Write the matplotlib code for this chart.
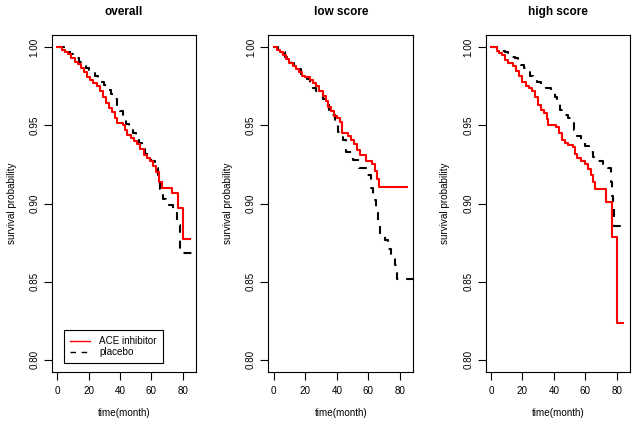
import matplotlib
matplotlib.use("Agg")
import matplotlib.pyplot as plt
from matplotlib.lines import Line2D

plt.rcParams['font.family'] = ['Liberation Sans', 'DejaVu Sans']

titles = ["overall", "low score", "high score"]
legend_labels = ["ACE inhibitor", "placebo"]
xlabel = "time(month)"
ylabel = "survival probability"
xticks = [0, 20, 40, 60, 80]
yticks = [0.80, 0.85, 0.90, 0.95, 1.00]

# ---- overall ----
ace_overall_t = [0, 2.8, 5, 7, 9, 11, 13, 15, 17, 19, 21, 23, 25, 27, 29, 31, 33, 35, 36.5, 38,
                 42, 43, 44.5, 47, 49, 51, 53, 55, 57, 59, 61, 63, 64.5, 66.6, 73.0, 76.8, 80.0, 84.6]
ace_overall_s = [1.0, 0.9985, 0.9972, 0.9958, 0.993, 0.991, 0.9895, 0.987, 0.984, 0.981, 0.979, 0.977,
                 0.9755, 0.972, 0.968, 0.9645, 0.961, 0.9585, 0.955, 0.9515, 0.9505, 0.947, 0.944,
                 0.942, 0.940, 0.938, 0.935, 0.931, 0.929, 0.927, 0.924, 0.920, 0.914, 0.910,
                 0.9065, 0.897, 0.877, 0.877]
pla_overall_t = [0, 4, 6, 8, 10, 12, 14, 16, 18, 20, 22, 24, 26, 28, 30, 32, 34, 36, 38, 40, 42, 44,
                 46, 48, 50, 52, 54, 56, 58, 60, 62, 64, 65.5, 67.5, 69.3, 74, 76.6, 78.3, 88]
pla_overall_s = [1.0, 0.999, 0.997, 0.996, 0.994, 0.993, 0.991, 0.989, 0.987, 0.9855, 0.984, 0.982,
                 0.980, 0.978, 0.976, 0.973, 0.970, 0.967, 0.963, 0.959, 0.955, 0.951, 0.948, 0.945,
                 0.942, 0.939, 0.935, 0.932, 0.929, 0.927, 0.923, 0.918, 0.909, 0.903, 0.899,
                 0.8937, 0.886, 0.868, 0.868]

# ---- low score ----
ace_low_t = [0, 2, 4, 6, 8, 10, 12, 14, 16, 18, 20, 23, 25, 27, 29, 31, 33, 34.5, 36, 38, 40, 42,
             43.5, 47, 49, 51, 53, 54.5, 58.5, 62, 64, 65.5, 66.5, 84.2]
ace_low_s = [1.0, 0.9985, 0.997, 0.995, 0.9925, 0.990, 0.988, 0.986, 0.984, 0.982, 0.981, 0.979,
             0.977, 0.975, 0.972, 0.969, 0.966, 0.962, 0.959, 0.956, 0.9545, 0.9525, 0.945, 0.9435,
             0.941, 0.938, 0.934, 0.931, 0.927, 0.925, 0.921, 0.916, 0.9108, 0.9108]
pla_low_t = [0, 3, 5, 7, 9, 11, 13, 15, 17, 19, 21, 23, 25, 27, 29, 31, 33, 35, 37, 39, 41, 44, 46,
             50, 54, 58.5, 61.5, 63, 65, 66.3, 67.5, 70.5, 72.5, 74.5, 76.8, 78, 88]
pla_low_s = [1.0, 0.9985, 0.997, 0.994, 0.992, 0.990, 0.988, 0.986, 0.983, 0.981, 0.980, 0.976,
             0.974, 0.972, 0.970, 0.967, 0.963, 0.960, 0.957, 0.9525, 0.946, 0.9407, 0.933, 0.928,
             0.9225, 0.918, 0.910, 0.902, 0.895, 0.886, 0.880, 0.8766, 0.871, 0.866, 0.8605,
             0.8515, 0.8515]

# ---- high score ----
ace_high_t = [0, 3.6, 5, 7, 9, 11, 14, 16, 18, 20, 22, 24, 26, 28, 30, 32, 34, 35.5, 36.5, 41.5,
              43, 45, 47, 49, 52, 53.5, 55, 57, 59.5, 61.5, 63.5, 64.8, 66, 73, 76.8, 80, 83.8]
ace_high_s = [1.0, 0.998, 0.9965, 0.995, 0.992, 0.990, 0.988, 0.985, 0.982, 0.978, 0.975, 0.974,
              0.972, 0.968, 0.963, 0.960, 0.958, 0.954, 0.950, 0.9493, 0.945, 0.941, 0.939,
              0.9375, 0.936, 0.932, 0.929, 0.927, 0.925, 0.922, 0.918, 0.914, 0.9095, 0.901,
              0.8787, 0.8235, 0.8235]
pla_high_t = [0, 4, 7, 9, 11, 13, 15, 17, 19, 21, 23, 25, 27, 29, 32, 35, 38, 40.5, 42, 44, 46.5,
              49, 51, 53, 55, 57.5, 60, 62.5, 65, 67, 71, 74.5, 76.2, 77, 77.6, 78.3, 84]
pla_high_s = [1.0, 0.999, 0.998, 0.997, 0.996, 0.994, 0.993, 0.991, 0.989, 0.987, 0.985, 0.982,
              0.980, 0.978, 0.976, 0.974, 0.971, 0.968, 0.964, 0.960, 0.957, 0.955, 0.952, 0.947,
              0.943, 0.941, 0.937, 0.933, 0.930, 0.927, 0.9255, 0.9225, 0.914, 0.905, 0.897,
              0.8858, 0.8858]

panels = [
    (ace_overall_t, ace_overall_s, pla_overall_t, pla_overall_s),
    (ace_low_t, ace_low_s, pla_low_t, pla_low_s),
    (ace_high_t, ace_high_s, pla_high_t, pla_high_s),
]

W, H = 638, 426
fig = plt.figure(figsize=(W / 100, H / 100), dpi=100)
fig.patch.set_facecolor('white')

# axes boxes in pixels: (left, right)
boxes = [(52, 196), (268.3, 413.3), (485.7, 630)]
top_px, bot_px = 35, 372
ylab_x = [-0.278, -0.276, -0.282]

fs = 7.1
for i, ((l, r), (at, as_, pt, ps)) in enumerate(zip(boxes, panels)):
    ax = fig.add_axes([l / W, 1 - bot_px / H, (r - l) / W, (bot_px - top_px) / H])
    ax.step(pt, ps, where='post', color='black', lw=1.5, linestyle=(0, (3.8, 3.8)))
    ax.step(at, as_, where='post', color='#ff0000', lw=1.5)
    ax.set_xlim(-3.4, 88.4)
    ax.set_ylim(0.792, 1.008)
    ax.set_xticks(xticks)
    ax.set_xticklabels([str(v) for v in xticks])
    ax.set_yticks(yticks)
    ax.set_yticklabels([f"{v:.2f}" for v in yticks], rotation=90, va='center')
    ax.tick_params(axis='both', direction='out', length=6, width=0.8, labelsize=fs,
                   colors='black')
    ax.tick_params(axis='x', pad=4.3)
    ax.tick_params(axis='y', pad=3.0)
    for sp in ax.spines.values():
        sp.set_linewidth(0.8)
        sp.set_color('black')
    ax.set_xlabel(xlabel, fontsize=fs, va='center')
    ax.xaxis.set_label_coords(0.5, -0.1217)
    ax.set_ylabel(ylabel, fontsize=fs, va='center', ha='center')
    ax.yaxis.set_label_coords(ylab_x[i], 0.5)
    ax.set_title(titles[i], fontsize=8.5, fontweight='bold', y=1.068, va='center', pad=0)

    if i == 0:
        handles = [Line2D([], [], color='#ff0000', lw=1.0),
                   Line2D([], [], color='black', lw=1.0, linestyle=(0, (4, 4)))]
        leg = ax.legend(handles, legend_labels, loc='lower left',
                        bbox_to_anchor=((64.3 - l) / (r - l), (bot_px - 363.3) / (bot_px - top_px)),
                        fontsize=fs, frameon=True, fancybox=False, framealpha=1,
                        edgecolor='black', borderpad=0.6, handlelength=2.0,
                        handletextpad=0.95, labelspacing=0.12, borderaxespad=0)
        leg.get_frame().set_linewidth(0.8)

fig.savefig("out.png", dpi=100)
